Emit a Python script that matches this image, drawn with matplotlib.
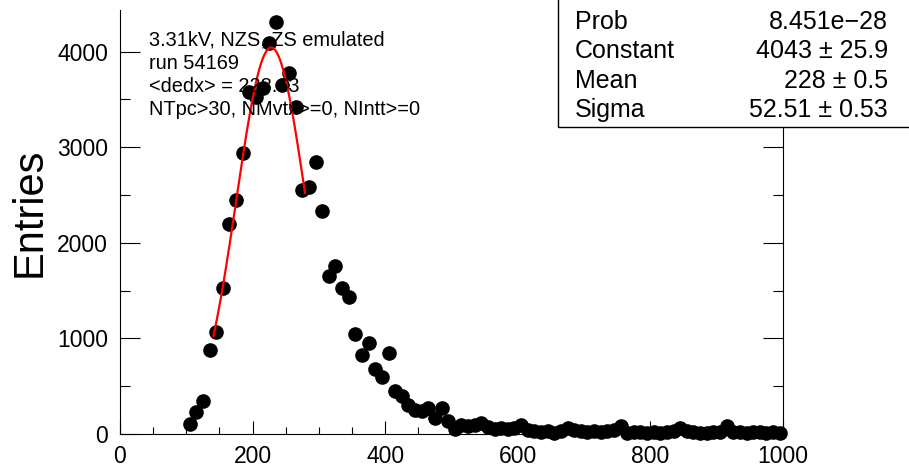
import numpy as np
import matplotlib.pyplot as plt
from matplotlib.ticker import MultipleLocator
from matplotlib.patches import Rectangle

plt.rcParams['font.family'] = ['Liberation Sans', 'DejaVu Sans']

# histogram of dE/dx, 10-unit bins from 100 to 1000
bin_centers = np.arange(105, 1000, 10)
counts = [105, 235, 345, 880, 1070, 1530, 2200, 2450, 2940, 3580,
          3530, 3620, 4090, 4310, 3650, 3780, 3420, 2550, 2580, 2850,
          2330, 1655, 1760, 1530, 1435, 1050, 830, 955, 675, 595,
          850, 450, 395, 300, 255, 245, 270, 165, 275, 140,
          55, 90, 85, 95, 120, 70, 55, 60, 50, 60,
          95, 40, 35, 20, 30, 15, 35, 65, 40, 30,
          25, 30, 20, 35, 40, 80, 15, 20, 25, 15,
          25, 10, 20, 30, 60, 30, 20, 15, 10, 20,
          25, 80, 25, 20, 15, 20, 25, 15, 20, 10]

# gaussian fit result
fit_const = 4043
fit_mean = 228
fit_sigma = 52.51
fit_range = (141, 279)

stat_names = ['Prob', 'Constant', 'Mean', 'Sigma']
stat_values = ['8.451e\u221228', '4043 \u00b1 25.9', '228 \u00b1 0.5', '52.51 \u00b1 0.53']

info_lines = ['3.31kV, NZS, ZS emulated', 'run 54169', '<dedx> = 228.63',
              'NTpc>30, NMvtx>=0, NIntt>=0']

W, H = 909, 467
fig = plt.figure(figsize=(W / 100, H / 100), dpi=100)
ax = fig.add_axes([120 / W, 33 / H, 663 / W, 424 / H])

ax.plot(bin_centers, counts, 'o', color='black', ms=9.5, clip_on=False, zorder=3)

xf = np.linspace(fit_range[0], fit_range[1], 200)
yf = fit_const * np.exp(-0.5 * ((xf - fit_mean) / fit_sigma) ** 2)
ax.plot(xf, yf, color='red', lw=1.6, zorder=4)

ax.set_xlim(0, 1000)
ax.set_ylim(0, 4435)
ax.xaxis.set_major_locator(MultipleLocator(200))
ax.xaxis.set_minor_locator(MultipleLocator(50))
ax.yaxis.set_major_locator(MultipleLocator(1000))
ax.yaxis.set_minor_locator(MultipleLocator(500))
ax.tick_params(axis='both', which='both', direction='in', labelsize=16.5, width=0.8)
ax.tick_params(axis='x', which='major', length=9.5, pad=8)
ax.tick_params(axis='x', which='minor', length=5)
ax.tick_params(axis='y', which='major', length=14.5, pad=8.5, right=True)
ax.tick_params(axis='y', which='minor', length=7, right=True)
ax.spines['top'].set_visible(False)
for s in ['left', 'bottom', 'right']:
    ax.spines[s].set_linewidth(0.8)

fig.text(30 / W, 1 - 212 / H, 'Entries', rotation=90, ha='center', va='center', fontsize=30)

for i, line in enumerate(info_lines):
    fig.text(149 / W, 1 - (40 + i * 23.3) / H, line, ha='left', va='center', fontsize=14.4, zorder=5)

# stats box
box = Rectangle((558 / W, 1 - 127 / H), 1, 1, transform=fig.transFigure,
                facecolor='white', edgecolor='black', lw=1, zorder=10)
fig.add_artist(box)
for i, (n, v) in enumerate(zip(stat_names, stat_values)):
    y = 1 - (22 + i * 29.3) / H
    fig.text(575 / W, y, n, ha='left', va='center', fontsize=18, zorder=11)
    fig.text(888 / W, y, v, ha='right', va='center', fontsize=18, zorder=11)

fig.savefig('out.png', dpi=100)
